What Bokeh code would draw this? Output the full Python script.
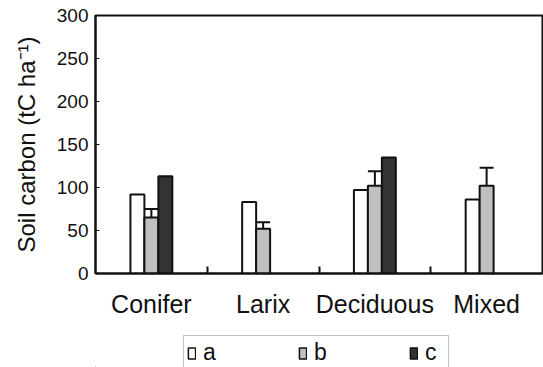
from bokeh.plotting import figure
from bokeh.models import (ColumnDataSource, Range1d, FixedTicker, Whisker, TeeHead,
                          Legend, LegendItem)
from bokeh.layouts import column
from bokeh.transform import dodge
from bokeh.embed import file_html
from bokeh.resources import INLINE

categories = ["Conifer", "Larix", "Deciduous", "Mixed"]
series_a = [92, 83, 97, 86]
series_b = [65, 52, 102, 102]
series_b_err = [10, 7.5, 17, 21]
series_c = [113, None, 135, None]
y_ticks = [0, 50, 100, 150, 200, 250, 300]
legend_labels = ["a", "b", "c"]

FONT = "Liberation Sans"
W = 0.125
INK = "#111111"
FILLS = ["white", "#c0c0c0", "#333333"]

xc = [i + 0.5 for i in range(len(categories))]
src_a = ColumnDataSource(dict(x=xc, top=series_a))
src_b = ColumnDataSource(dict(x=xc, top=series_b,
                              upper=[v + e for v, e in zip(series_b, series_b_err)],
                              lower=[v - e for v, e in zip(series_b, series_b_err)]))
ci = [i for i, v in enumerate(series_c) if v is not None]
src_c = ColumnDataSource(dict(x=[xc[i] for i in ci], top=[series_c[i] for i in ci]))

p = figure(width=543, height=333, output_backend="svg", toolbar_location=None,
           x_range=Range1d(0, len(categories)), y_range=Range1d(0, 300),
           min_border_left=95, min_border_right=1, min_border_top=15, min_border_bottom=60)

p.xgrid.visible = False
p.ygrid.visible = False
p.outline_line_color = INK
p.outline_line_width = 2
p.background_fill_color = "white"
p.border_fill_color = "white"

p.vbar(x=dodge("x", -W, range=p.x_range), top="top", bottom=0, width=W, source=src_a,
       fill_color=FILLS[0], line_color=INK, line_width=2)
p.vbar(x=dodge("x", 0, range=p.x_range), top="top", bottom=0, width=W, source=src_b,
       fill_color=FILLS[1], line_color=INK, line_width=2)
p.vbar(x=dodge("x", W, range=p.x_range), top="top", bottom=0, width=W, source=src_c,
       fill_color=FILLS[2], line_color=INK, line_width=2)

wh = Whisker(base="x", upper="upper", lower="lower", source=src_b, dimension="height",
             line_color=INK, line_width=2,
             upper_head=TeeHead(size=14, line_color=INK, line_width=2),
             lower_head=None)
p.add_layout(wh)

# x axis
p.xaxis.ticker = FixedTicker(ticks=xc, minor_ticks=[1, 2, 3])
p.xaxis.major_label_overrides = {x: c for x, c in zip(xc, categories)}
p.xaxis.major_tick_in = 0
p.xaxis.major_tick_out = 0
p.xaxis.minor_tick_in = 7
p.xaxis.minor_tick_out = 0
p.xaxis.minor_tick_line_color = INK
p.xaxis.minor_tick_line_width = 2
p.xaxis.axis_line_color = INK
p.xaxis.axis_line_width = 2
p.xaxis.major_label_text_font = FONT
p.xaxis.major_label_text_font_size = "25px"
p.xaxis.major_label_text_color = INK
p.xaxis.major_label_standoff = 16

# y axis
p.yaxis.ticker = FixedTicker(ticks=y_ticks)
p.yaxis.minor_tick_line_color = None
p.yaxis.major_tick_in = 4
p.yaxis.major_tick_out = 0
p.yaxis.major_tick_line_color = INK
p.yaxis.major_tick_line_width = 1
p.yaxis.axis_line_color = INK
p.yaxis.axis_line_width = 2
p.yaxis.major_label_text_font = FONT
p.yaxis.major_label_text_font_size = "19px"
p.yaxis.major_label_text_color = INK
p.yaxis.major_label_standoff = 7
p.yaxis.axis_label = "Soil carbon (tC ha\u207b\u00b9)"
p.yaxis.axis_label_text_font = FONT
p.yaxis.axis_label_text_font_size = "24px"
p.yaxis.axis_label_text_font_style = "normal"
p.yaxis.axis_label_text_color = INK
p.yaxis.axis_label_standoff = 14

# legend strip below the chart (dummy off-view renderers only carry legend styles)
q = figure(width=543, height=34, output_backend="svg", toolbar_location=None,
           x_range=Range1d(0, 1), y_range=Range1d(0, 1),
           x_axis_location=None, y_axis_location=None,
           min_border_left=0, min_border_right=0, min_border_top=0, min_border_bottom=0)
q.xgrid.visible = False
q.ygrid.visible = False
q.outline_line_color = None
q.border_fill_color = "white"
q.background_fill_color = "white"

lr = [q.vbar(x="x", top="top", bottom=-20, width=0.1,
             source=ColumnDataSource(dict(x=[-10], top=[-10])),
             fill_color=f, line_color=INK, line_width=1.5) for f in FILLS]

legend = Legend(items=[LegendItem(label=lab, renderers=[r]) for lab, r in zip(legend_labels, lr)],
                orientation="horizontal", location=(88, -3),
                glyph_width=9, glyph_height=14, label_standoff=7, spacing=75,
                padding=3, margin=0,
                label_text_font=FONT, label_text_font_size="23px", label_text_color=INK,
                border_line_color="#888888", border_line_width=1.5,
                background_fill_color="white", background_fill_alpha=1)
q.add_layout(legend, "center")

layout = column(p, q, spacing=0)
open("out.html", "w").write(file_html(layout, INLINE))
